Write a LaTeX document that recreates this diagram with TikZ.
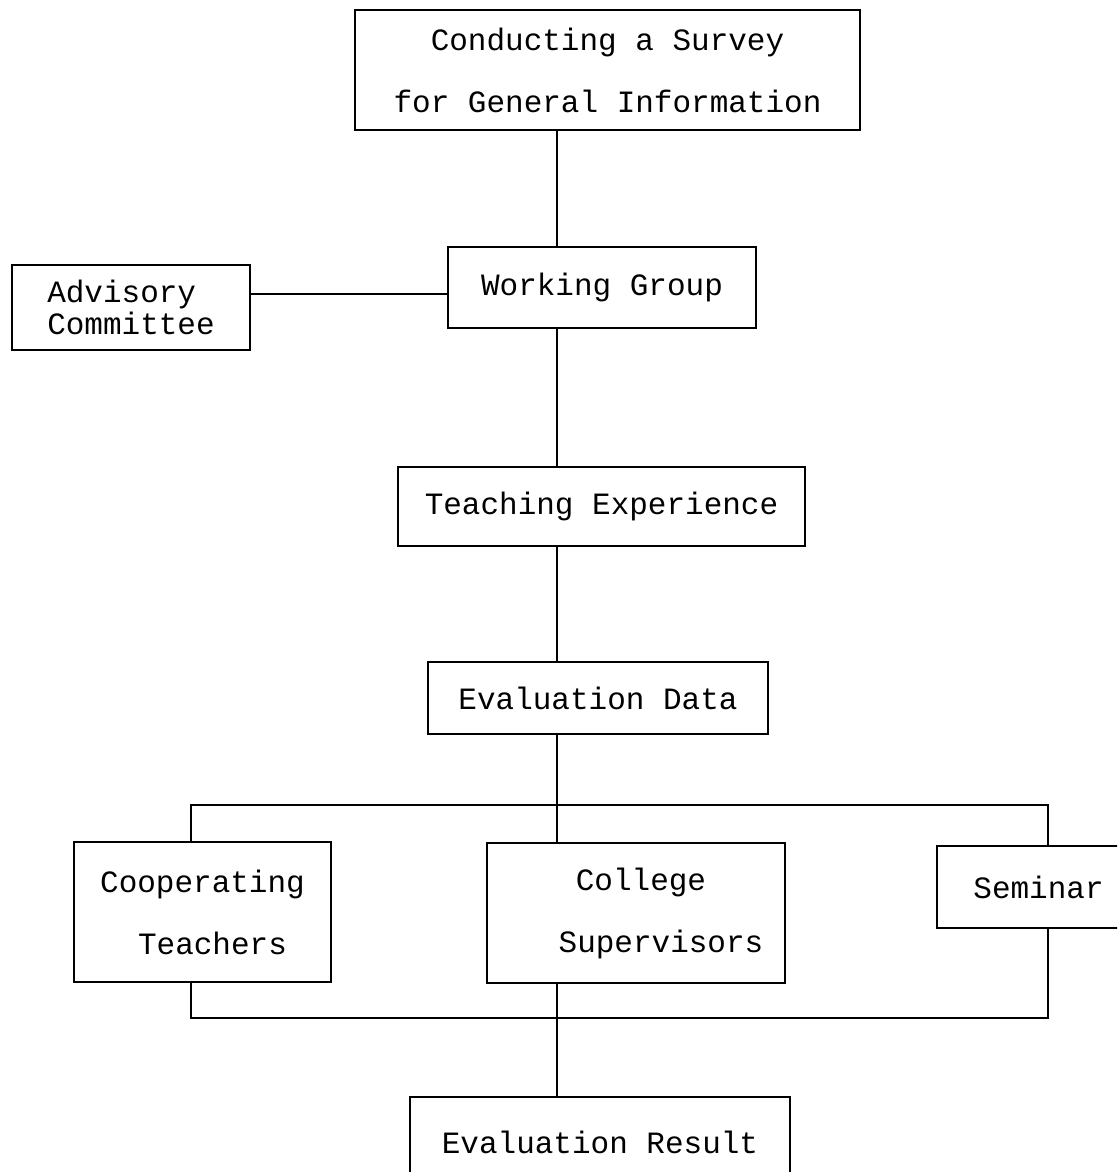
\documentclass[tikz,border=0pt]{standalone}
\usepackage{fontspec}
\setmainfont{Liberation Mono}
\usetikzlibrary{positioning}

\begin{document}
\begin{tikzpicture}[x=1pt,y=-1pt,
  box/.style={draw,line width=1.3pt,inner sep=0pt,align=center,
    font=\fontsize{31}{62}\selectfont},
  link/.style={line width=1.3pt}]

\useasboundingbox (0,0) rectangle (1117,1172);
\clip (0,0) rectangle (1117,1172);

\coordinate (spine) at (557,0);
\coordinate (lx) at (191,0);
\coordinate (rx) at (1048,0);
\coordinate (advy) at (0,294);
\coordinate (topbar) at (0,805);
\coordinate (botbar) at (0,1018);

\node[box,minimum width=505,minimum height=120] (survey) at (607.5,70)
  {Conducting a Survey\\for General Information};
\node[box,minimum width=308,minimum height=81] (working) at (602,287.5)
  {Working Group};
\node[box,minimum width=238,minimum height=85,font=\fontsize{31}{32}\selectfont,align=left]
  (advisory) at (131,307.5) {Advisory\\Committee};
\node[box,minimum width=407,minimum height=79] (teaching) at (601.5,506.5)
  {Teaching Experience};
\node[box,minimum width=340,minimum height=72] (evaldata) at (598,698)
  {Evaluation Data};
\node[box,minimum width=257,minimum height=140] (coop) at (202.5,912)
  {Cooperating\\\hspace*{20pt}Teachers};
\node[box,minimum width=298,minimum height=140] (college) at (636,913)
  {\hspace*{10pt}College\\\hspace*{50pt}Supervisors};
\node[box,minimum width=203,minimum height=82] (seminar) at (1038.5,887)
  {Seminar};
\node[box,minimum width=380,minimum height=90] (result) at (600,1142)
  {Evaluation Result};

\draw[link] (survey.south -| spine) -- (working.north -| spine);
\draw[link] (working.west |- advy) -- (advisory.east |- advy);
\draw[link] (working.south -| spine) -- (teaching.north -| spine);
\draw[link] (teaching.south -| spine) -- (evaldata.north -| spine);
\draw[link] (evaldata.south -| spine) -- (spine |- topbar);

\draw[link] (coop.north -| lx) -- (lx |- topbar) -- (rx |- topbar) -- (seminar.north -| rx);
\draw[link] (college.north -| spine) -- (spine |- topbar);
\draw[link] (coop.south -| lx) -- (lx |- botbar) -- (rx |- botbar) -- (seminar.south -| rx);
\draw[link] (college.south -| spine) -- (result.north -| spine);

\end{tikzpicture}
\end{document}
